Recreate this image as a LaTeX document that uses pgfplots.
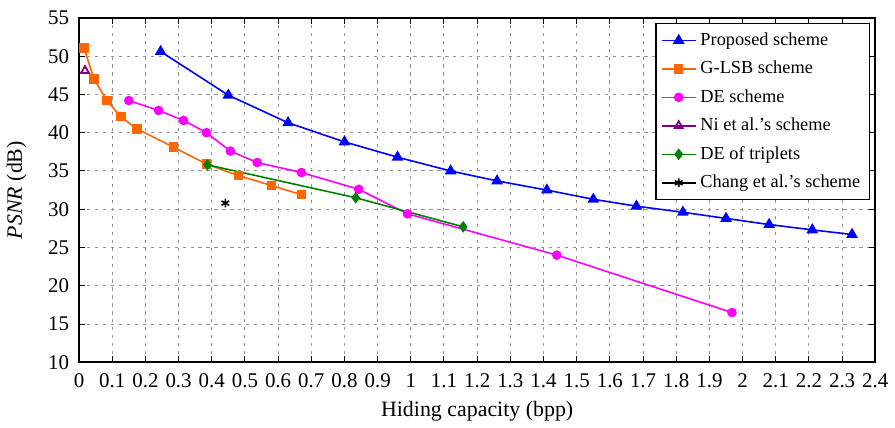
\documentclass[border=0pt]{standalone}
\usepackage{fontspec}
\setmainfont{Liberation Serif}
\usepackage{pgfplots}
\pgfplotsset{compat=1.18}
\definecolor{gblue}{RGB}{0,0,255}
\definecolor{gorange}{RGB}{255,102,0}
\definecolor{gmag}{RGB}{255,0,255}
\definecolor{gpurple}{RGB}{128,0,128}
\definecolor{ggreen}{RGB}{0,128,0}

\begin{document}
\begin{tikzpicture}
\begin{axis}[
    scale only axis,
    width=400pt, height=173pt,
    xmin=0, xmax=2.4, ymin=10, ymax=55,
    xtick={0,0.1,...,2.4}, ytick={10,15,...,55},
    tick label style={font=\fontsize{10.5}{12}\selectfont},
    label style={font=\fontsize{11}{13}\selectfont},
    x tick label style={yshift=-2pt},
    y tick label style={xshift=-1.5pt},
    ylabel style={yshift=4pt},
    /pgf/number format/assume math mode=true,
    grid=major,
    grid style={dash pattern=on 1.6pt off 2.4pt, gray!85, line width=0.5pt},
    axis line style={line width=1pt},
    tick style={black, line width=0.5pt},
    major tick length=3pt,
    xlabel={Hiding capacity (bpp)},
    ylabel={\textit{PSNR} (dB)},
    legend cell align=left,
    legend style={at={(rel axis cs:0.993,0.985)}, anchor=north east,
        draw=black, line width=0.6pt, font=\fontsize{9.2}{11}\selectfont,
        row sep=2.4pt, inner sep=2.5pt},
    every axis plot/.append style={line width=0.8pt},
]
\addplot[gblue, mark=triangle*, mark size=2.6pt] coordinates {
 (0.246,50.6) (0.45,44.9) (0.63,41.3) (0.80,38.8) (0.96,36.8) (1.12,35.0)
 (1.26,33.7) (1.41,32.5) (1.55,31.3) (1.68,30.4) (1.82,29.6) (1.95,28.8)
 (2.08,28.0) (2.21,27.3) (2.33,26.7)};
\addlegendentry{Proposed scheme}
\addplot[gorange, mark=square*, mark size=2pt] coordinates {
 (0.015,51.1) (0.045,47.0) (0.084,44.2) (0.126,42.1) (0.174,40.5)
 (0.285,38.1) (0.384,35.9) (0.48,34.4) (0.58,33.1) (0.67,31.9)};
\addlegendentry{G-LSB scheme}
\addplot[gmag, mark=*, mark size=2pt] coordinates {
 (0.15,44.2) (0.24,42.9) (0.315,41.6) (0.384,40.0) (0.456,37.6) (0.537,36.1)
 (0.67,34.8) (0.843,32.6) (0.99,29.4) (1.44,24.0) (1.968,16.5)};
\addlegendentry{DE scheme}
\addplot[gpurple, mark=triangle, mark size=2.3pt, mark options={line width=0.9pt}] coordinates {
 (0.018,48.1)};
\addlegendentry{Ni et al.'s scheme}
\addplot[ggreen, mark=diamond*, mark size=2.3pt] coordinates {
 (0.387,35.8) (0.834,31.5) (1.158,27.7)};
\addlegendentry{DE of triplets}
\addplot[black, mark=asterisk, mark size=2.2pt] coordinates {
 (0.441,30.8)};
\addlegendentry{Chang et al.'s scheme}
\end{axis}
\path ([yshift=9pt]current axis.north);
\end{tikzpicture}
\end{document}
